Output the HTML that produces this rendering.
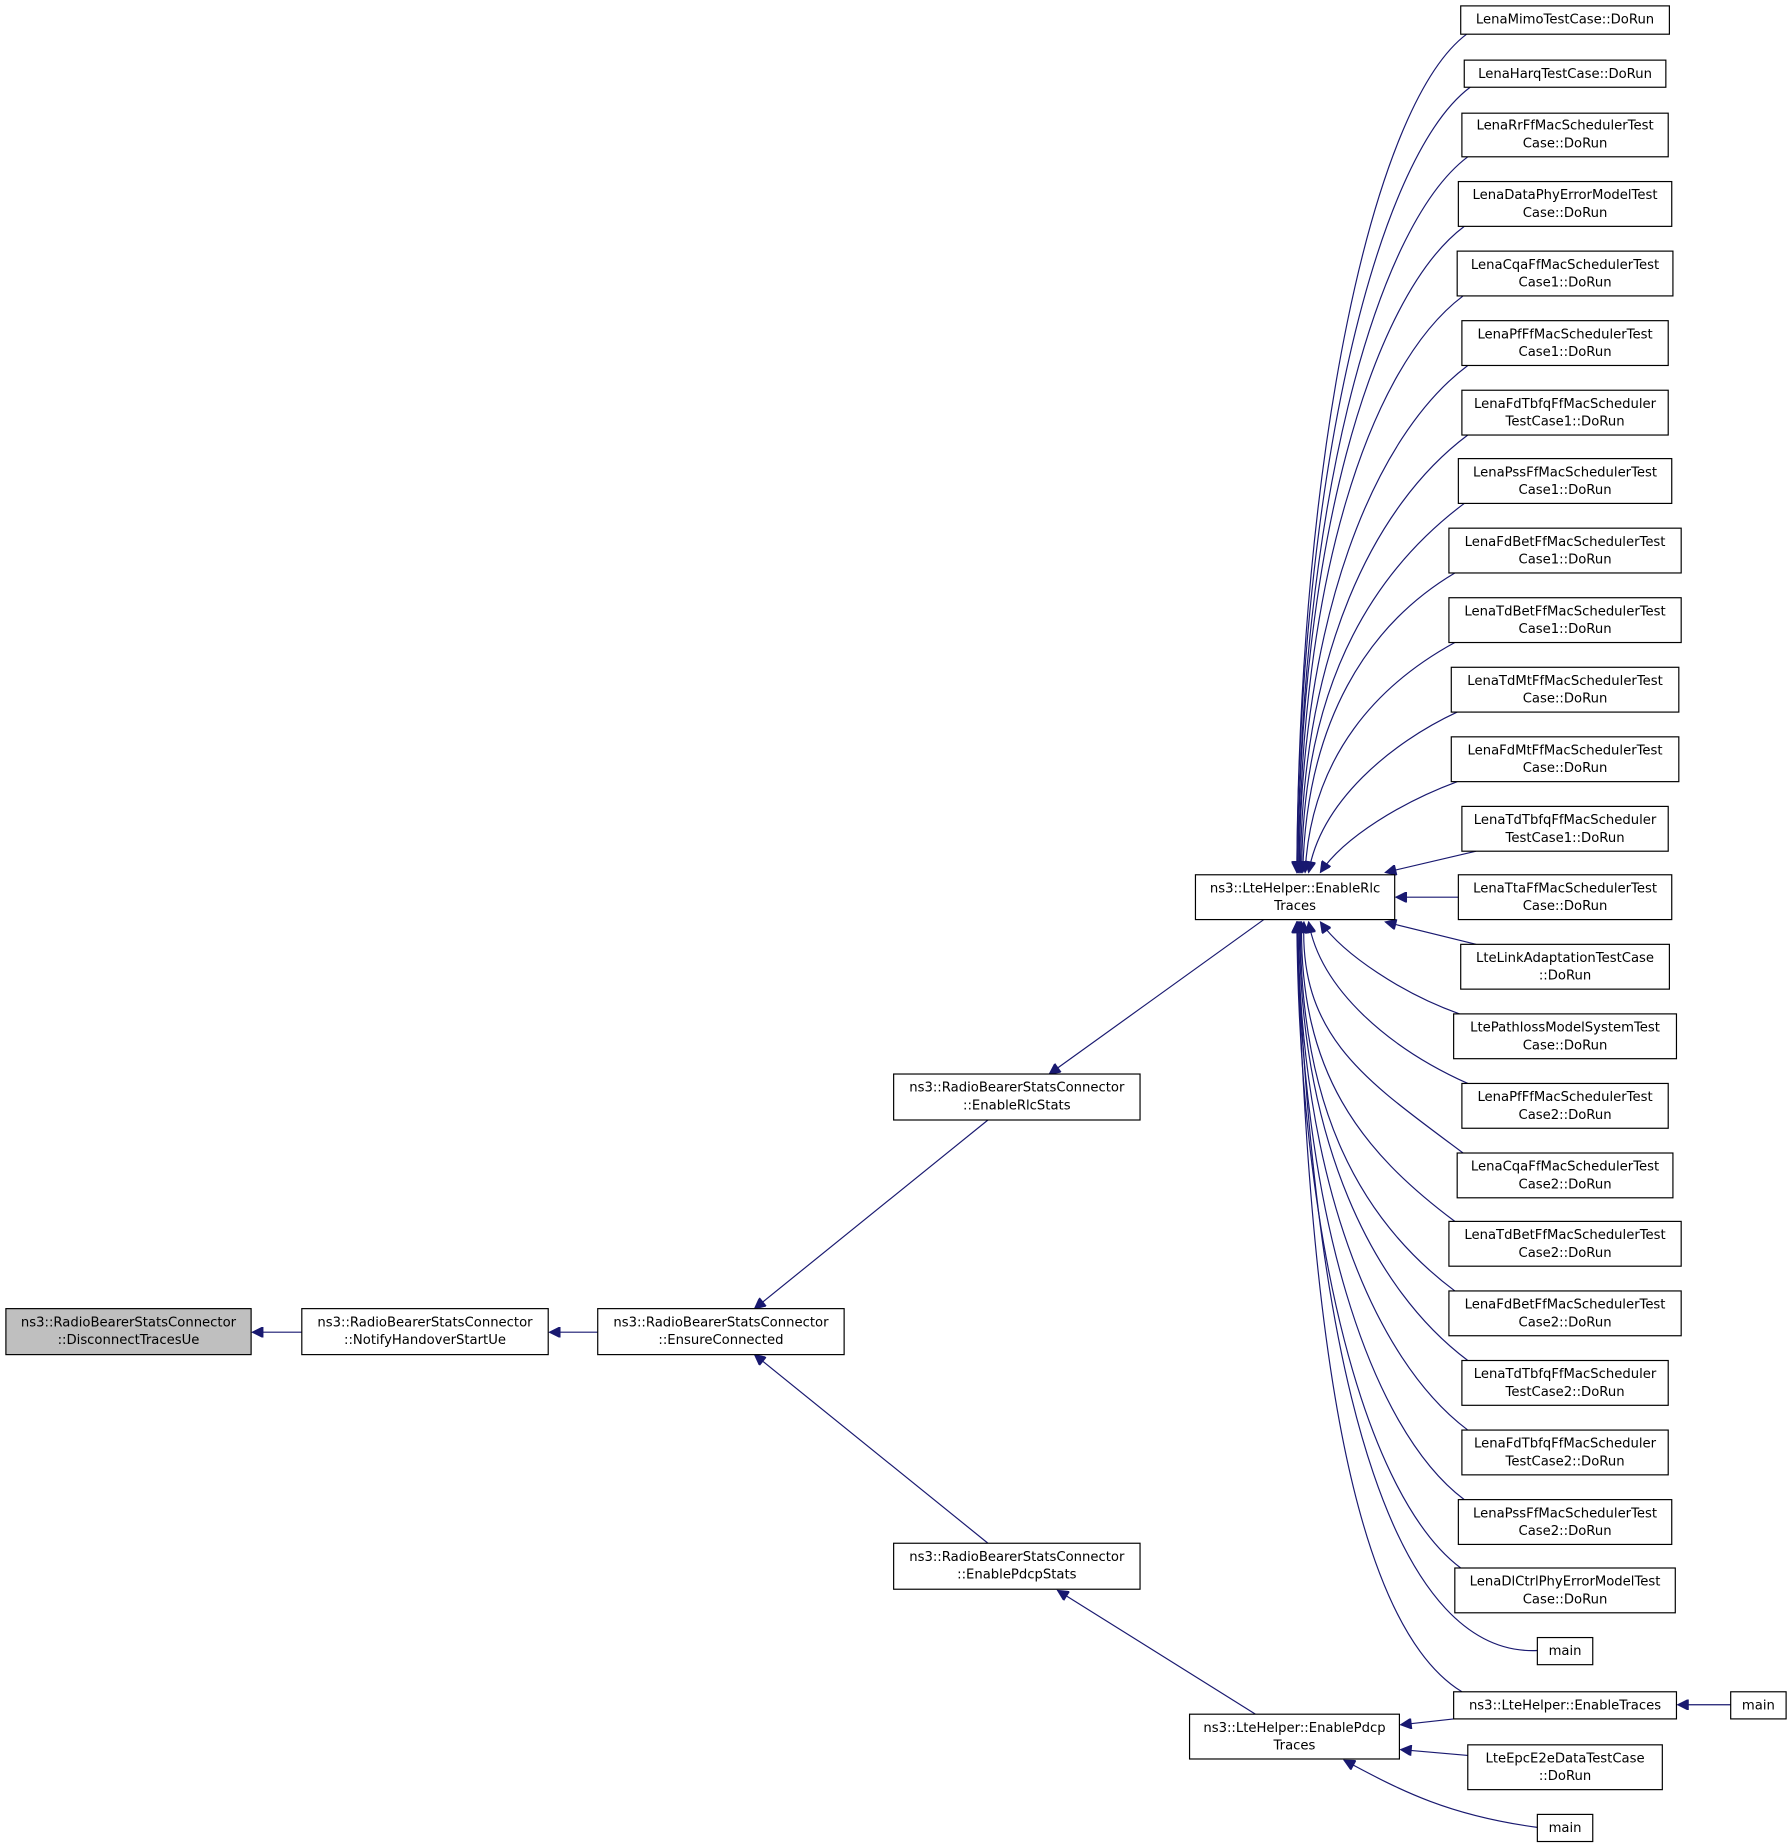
<!DOCTYPE html>
<html><head><meta charset="utf-8"><style>
html,body{margin:0;padding:0;background:#fff;}
svg{display:block;}
text{font-family:"DejaVu Sans","Liberation Sans",sans-serif;font-size:11.2px;fill:#000;text-anchor:middle;}
rect{fill:#fff;stroke:#000;stroke-width:1;}
path{fill:none;stroke:#191970;stroke-width:1;}
</style></head><body>
<svg width="1792" height="1848" viewBox="0 0 1520 1567.5" xmlns="http://www.w3.org/2000/svg">
<defs><marker id="a" viewBox="0 0 10 10" refX="10" refY="5" markerWidth="11" markerHeight="9" markerUnits="userSpaceOnUse" orient="auto"><path d="M0,0 L10,5 L0,10 z" style="fill:#191970;stroke:#191970"/></marker></defs>
<g marker-end="url(#a)">
<path d="M1244,29 C1164,89 1102,384 1100,740"/>
<path d="M1247,74 C1167,134 1102,406 1100,740"/>
<path d="M1245,133 C1165,193 1102,436 1101,740"/>
<path d="M1242,192 C1162,252 1102,465 1101,740"/>
<path d="M1241,251 C1161,311 1102,495 1102,740"/>
<path d="M1245,310 C1165,370 1103,524 1102,740"/>
<path d="M1245,369 C1165,429 1104,554 1103,740"/>
<path d="M1242,427 C1162,487 1105,583 1104,740"/>
<path d="M1234,486 C1160,530 1108,612 1105,740"/>
<path d="M1234,545 C1170,580 1112,640 1107,740"/>
<path d="M1236,604 C1180,630 1120,680 1110,740"/>
<path d="M1236,663 C1190,680 1140,710 1120,740"/>
<path d="M1252,722 L1175,740"/>
<path d="M1237,761 L1184,761"/>
<path d="M1252,801 L1175,782"/>
<path d="M1238,860 C1190,843 1140,810 1120,782"/>
<path d="M1245,919 C1180,890 1120,840 1110,782"/>
<path d="M1241,978 C1161,918 1102,881 1106,782"/>
<path d="M1234,1036 C1154,976 1102,910 1104,782"/>
<path d="M1234,1095 C1154,1035 1102,940 1103,782"/>
<path d="M1245,1154 C1165,1094 1102,969 1102,782"/>
<path d="M1245,1213 C1165,1153 1102,999 1101,782"/>
<path d="M1242,1272 C1162,1212 1102,1028 1101,782"/>
<path d="M1239,1330 C1159,1270 1102,1057 1100,782"/>
<path d="M1304,1400 C1190,1405 1115,1200 1100,782"/>
<path d="M1240,1435 C1150,1380 1110,1150 1100,782"/>
<path d="M1233,1458 L1188,1463"/>
<path d="M1468,1446 L1423,1446"/>
<path d="M1245,1489 L1188,1484"/>
<path d="M1304,1550 C1230,1540 1190,1520 1140,1493"/>
<path d="M1072,780 L890,911"/>
<path d="M1065,1454 L897,1349"/>
<path d="M838,950 L640,1110"/>
<path d="M838,1309 L640,1149"/>
<path d="M507,1130 L466,1130"/>
<path d="M256,1130 L214,1130"/>
</g>
<g>
<rect x="1239" y="5" width="177" height="24"/><text x="1327.5" y="20">LenaMimoTestCase::DoRun</text>
<rect x="1242" y="51" width="171" height="23"/><text x="1327.5" y="66">LenaHarqTestCase::DoRun</text>
<rect x="1240" y="96" width="175" height="37"/><text x="1327.5" y="110">LenaRrFfMacSchedulerTest</text><text x="1327.5" y="125">Case::DoRun</text>
<rect x="1237" y="154" width="181" height="38"/><text x="1327.5" y="169">LenaDataPhyErrorModelTest</text><text x="1327.5" y="184">Case::DoRun</text>
<rect x="1236" y="213" width="183" height="38"/><text x="1327.5" y="228">LenaCqaFfMacSchedulerTest</text><text x="1327.5" y="243">Case1::DoRun</text>
<rect x="1240" y="272" width="175" height="38"/><text x="1327.5" y="287">LenaPfFfMacSchedulerTest</text><text x="1327.5" y="302">Case1::DoRun</text>
<rect x="1240" y="331" width="175" height="38"/><text x="1327.5" y="346">LenaFdTbfqFfMacScheduler</text><text x="1327.5" y="361">TestCase1::DoRun</text>
<rect x="1237" y="389" width="181" height="38"/><text x="1327.5" y="404">LenaPssFfMacSchedulerTest</text><text x="1327.5" y="419">Case1::DoRun</text>
<rect x="1229" y="448" width="197" height="38"/><text x="1327.5" y="463">LenaFdBetFfMacSchedulerTest</text><text x="1327.5" y="478">Case1::DoRun</text>
<rect x="1229" y="507" width="197" height="38"/><text x="1327.5" y="522">LenaTdBetFfMacSchedulerTest</text><text x="1327.5" y="537">Case1::DoRun</text>
<rect x="1231" y="566" width="193" height="38"/><text x="1327.5" y="581">LenaTdMtFfMacSchedulerTest</text><text x="1327.5" y="596">Case::DoRun</text>
<rect x="1231" y="625" width="193" height="38"/><text x="1327.5" y="640">LenaFdMtFfMacSchedulerTest</text><text x="1327.5" y="655">Case::DoRun</text>
<rect x="1240" y="684" width="175" height="38"/><text x="1327.5" y="699">LenaTdTbfqFfMacScheduler</text><text x="1327.5" y="714">TestCase1::DoRun</text>
<rect x="1237" y="742" width="181" height="38"/><text x="1327.5" y="757">LenaTtaFfMacSchedulerTest</text><text x="1327.5" y="772">Case::DoRun</text>
<rect x="1239" y="801" width="177" height="38"/><text x="1327.5" y="816">LteLinkAdaptationTestCase</text><text x="1327.5" y="831">::DoRun</text>
<rect x="1233" y="860" width="189" height="38"/><text x="1327.5" y="875">LtePathlossModelSystemTest</text><text x="1327.5" y="890">Case::DoRun</text>
<rect x="1240" y="919" width="175" height="38"/><text x="1327.5" y="934">LenaPfFfMacSchedulerTest</text><text x="1327.5" y="949">Case2::DoRun</text>
<rect x="1236" y="978" width="183" height="38"/><text x="1327.5" y="993">LenaCqaFfMacSchedulerTest</text><text x="1327.5" y="1008">Case2::DoRun</text>
<rect x="1229" y="1036" width="197" height="38"/><text x="1327.5" y="1051">LenaTdBetFfMacSchedulerTest</text><text x="1327.5" y="1066">Case2::DoRun</text>
<rect x="1229" y="1095" width="197" height="38"/><text x="1327.5" y="1110">LenaFdBetFfMacSchedulerTest</text><text x="1327.5" y="1125">Case2::DoRun</text>
<rect x="1240" y="1154" width="175" height="38"/><text x="1327.5" y="1169">LenaTdTbfqFfMacScheduler</text><text x="1327.5" y="1184">TestCase2::DoRun</text>
<rect x="1240" y="1213" width="175" height="38"/><text x="1327.5" y="1228">LenaFdTbfqFfMacScheduler</text><text x="1327.5" y="1243">TestCase2::DoRun</text>
<rect x="1237" y="1272" width="181" height="38"/><text x="1327.5" y="1287">LenaPssFfMacSchedulerTest</text><text x="1327.5" y="1302">Case2::DoRun</text>
<rect x="1234" y="1330" width="187" height="38"/><text x="1327.5" y="1345">LenaDlCtrlPhyErrorModelTest</text><text x="1327.5" y="1360">Case::DoRun</text>
<rect x="1304" y="1389" width="47" height="23"/><text x="1327.5" y="1404">main</text>
<rect x="1233" y="1435" width="189" height="23"/><text x="1327.5" y="1450">ns3::LteHelper::EnableTraces</text>
<rect x="1468" y="1435" width="47" height="23"/><text x="1491.5" y="1450">main</text>
<rect x="1245" y="1480" width="165" height="38"/><text x="1327.5" y="1495">LteEpcE2eDataTestCase</text><text x="1327.5" y="1510">::DoRun</text>
<rect x="1304" y="1539" width="47" height="23"/><text x="1327.5" y="1554">main</text>
<rect x="1014" y="742" width="169" height="38"/><text x="1098.5" y="757">ns3::LteHelper::EnableRlc</text><text x="1098.5" y="772">Traces</text>
<rect x="1009" y="1454" width="178" height="38"/><text x="1098" y="1469">ns3::LteHelper::EnablePdcp</text><text x="1098" y="1484">Traces</text>
<rect x="758" y="911" width="209" height="39"/><text x="862.5" y="926">ns3::RadioBearerStatsConnector</text><text x="862.5" y="941">::EnableRlcStats</text>
<rect x="758" y="1309" width="209" height="39"/><text x="862.5" y="1324">ns3::RadioBearerStatsConnector</text><text x="862.5" y="1339">::EnablePdcpStats</text>
<rect x="507" y="1110" width="209" height="39"/><text x="611.5" y="1125">ns3::RadioBearerStatsConnector</text><text x="611.5" y="1140">::EnsureConnected</text>
<rect x="256" y="1110" width="209" height="39"/><text x="360.5" y="1125">ns3::RadioBearerStatsConnector</text><text x="360.5" y="1140">::NotifyHandoverStartUe</text>
<rect x="5" y="1110" width="208" height="39" style="fill:#bfbfbf"/><text x="109" y="1125">ns3::RadioBearerStatsConnector</text><text x="109" y="1140">::DisconnectTracesUe</text>
</g>
</svg>
</body></html>
